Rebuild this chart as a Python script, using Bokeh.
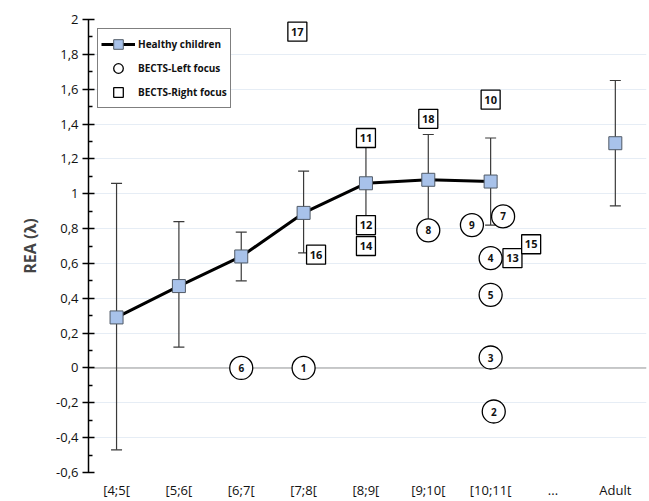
from bokeh.plotting import figure
from bokeh.models import (Range1d, FixedTicker, CustomJSTickFormatter, Whisker, TeeHead,
                          ColumnDataSource, Legend, LegendItem, Span)
from bokeh.core.properties import value
from bokeh.embed import file_html
from bokeh.resources import INLINE

categories = ["[4;5[", "[5;6[", "[6;7[", "[7;8[", "[8;9[", "[9;10[", "[10;11[", "...", "Adult"]

healthy_x = [1, 2, 3, 4, 5, 6, 7, 9]
healthy_mean = [0.29, 0.47, 0.64, 0.89, 1.06, 1.08, 1.07, 1.29]
healthy_lower = [-0.47, 0.12, 0.50, 0.66, 0.84, 0.82, 0.82, 0.93]
healthy_upper = [1.06, 0.84, 0.78, 1.13, 1.28, 1.34, 1.32, 1.65]

left_id = ["1", "2", "3", "4", "5", "6", "7", "8", "9"]
left_x = [4.0, 7.05, 7.0, 7.0, 7.0, 3.0, 7.2, 6.0, 6.7]
left_y = [0.0, -0.25, 0.06, 0.63, 0.42, 0.0, 0.87, 0.79, 0.82]

right_id = ["10", "11", "12", "13", "14", "15", "16", "17", "18"]
right_x = [7.0, 5.0, 5.0, 7.35, 5.0, 7.65, 4.2, 3.9, 6.0]
right_y = [1.54, 1.32, 0.82, 0.63, 0.70, 0.71, 0.65, 1.93, 1.43]

y_ticks = [-0.6, -0.4, -0.2, 0.0, 0.2, 0.4, 0.6, 0.8, 1.0, 1.2, 1.4, 1.6, 1.8, 2.0]
y_minor = [-0.5, -0.3, -0.1, 0.1, 0.3, 0.5, 0.7, 0.9, 1.1, 1.3, 1.5, 1.7, 1.9]

FONT = "Open Sans"

p = figure(width=648, height=501, output_backend="svg", toolbar_location=None,
           x_range=Range1d(0.55, 9.5), y_range=Range1d(-0.6, 2.0),
           min_border_left=88, min_border_right=2, min_border_top=19, min_border_bottom=28)
p.outline_line_color = None
p.background_fill_color = "white"

# grid
p.xgrid.visible = False
p.ygrid.ticker = FixedTicker(ticks=y_ticks)
p.ygrid.grid_line_color = "#e6edf5"
p.ygrid.grid_line_width = 1
zero = Span(location=0, dimension="width", line_color="#b8b8b8", line_width=1.5, level="underlay")
p.add_layout(zero)

# axes
p.xaxis.ticker = FixedTicker(ticks=list(range(1, len(categories) + 1)))
p.xaxis.major_label_overrides = {i + 1: c for i, c in enumerate(categories)}
p.xaxis.axis_line_color = None
p.xaxis.major_tick_line_color = None
p.xaxis.minor_tick_line_color = None
p.xaxis.major_label_text_font = FONT
p.xaxis.major_label_text_font_size = "13px"
p.xaxis.major_label_text_color = "#111111"
p.xaxis.major_label_standoff = 2

p.yaxis.ticker = FixedTicker(ticks=y_ticks, minor_ticks=y_minor)
p.yaxis.formatter = CustomJSTickFormatter(code="""
    var v = Math.round(tick * 10) / 10;
    if (v === 0) { v = 0; }
    return v.toString().replace('.', ',');
""")
p.yaxis.axis_line_color = "black"
p.yaxis.axis_line_width = 1.5
p.yaxis.major_tick_line_color = "black"
p.yaxis.major_tick_line_width = 1.5
p.yaxis.major_tick_in = 6
p.yaxis.major_tick_out = 6
p.yaxis.minor_tick_line_color = "black"
p.yaxis.minor_tick_line_width = 1.5
p.yaxis.minor_tick_in = 4
p.yaxis.minor_tick_out = 0
p.yaxis.major_label_text_font = FONT
p.yaxis.major_label_text_font_size = "13px"
p.yaxis.major_label_text_color = "#111111"
p.yaxis.major_label_standoff = 4
p.yaxis.axis_label = "REA (λ)"
p.yaxis.axis_label_text_font = FONT
p.yaxis.axis_label_text_font_size = "16px"
p.yaxis.axis_label_text_font_style = "bold"
p.yaxis.axis_label_standoff = 12

# error bars
err_src = ColumnDataSource(dict(x=healthy_x, lower=healthy_lower, upper=healthy_upper))
wh = Whisker(source=err_src, base="x", lower="lower", upper="upper", level="underlay",
             line_color="#3a3a3a", line_width=1.2,
             upper_head=TeeHead(size=11, line_color="#3a3a3a", line_width=1.2),
             lower_head=TeeHead(size=11, line_color="#3a3a3a", line_width=1.2))
p.add_layout(wh)

# healthy line (children only) and markers
n_children = 7
hl = p.line(healthy_x[:n_children], healthy_mean[:n_children], line_color="black", line_width=3)
hm = p.scatter(healthy_x, healthy_mean, marker="square", size=13,
               fill_color="#a8c2ea", line_color="#505a66", line_width=1)

# BECTS left focus (circles)
lsrc = ColumnDataSource(dict(x=left_x, y=left_y, t=left_id))
lc = p.scatter("x", "y", source=lsrc, marker="circle", size=23,
               fill_color="white", line_color="black", line_width=1.3)
p.text("x", "y", text="t", source=lsrc, text_align="center", text_baseline="middle",
       text_font=value(FONT), text_font_size="10px", text_font_style="bold", text_color="#111111")

# BECTS right focus (squares)
rsrc = ColumnDataSource(dict(x=right_x, y=right_y, t=right_id))
rs = p.scatter("x", "y", source=rsrc, marker="square", size=19,
               fill_color="white", line_color="black", line_width=1.3)
p.text("x", "y", text="t", source=rsrc, text_align="center", text_baseline="middle",
       text_font=value(FONT), text_font_size="11px", text_font_style="bold", text_color="#111111")

legend = Legend(items=[
    LegendItem(label="Healthy children", renderers=[hl, hm]),
    LegendItem(label="BECTS-Left focus", renderers=[lc], index=0),
    LegendItem(label="BECTS-Right focus", renderers=[rs], index=0),
], location="top_left")
legend.margin = 9
legend.padding = 3
legend.spacing = 0
legend.glyph_width = 34
legend.glyph_height = 24
legend.label_standoff = 3
legend.label_text_font = FONT
legend.label_text_font_size = "10px"
legend.label_text_font_style = "bold"
legend.label_text_color = "#111111"
legend.border_line_color = "black"
legend.border_line_width = 1
legend.background_fill_alpha = 1
p.add_layout(legend)

open("out.html", "w").write(file_html(p, INLINE))
